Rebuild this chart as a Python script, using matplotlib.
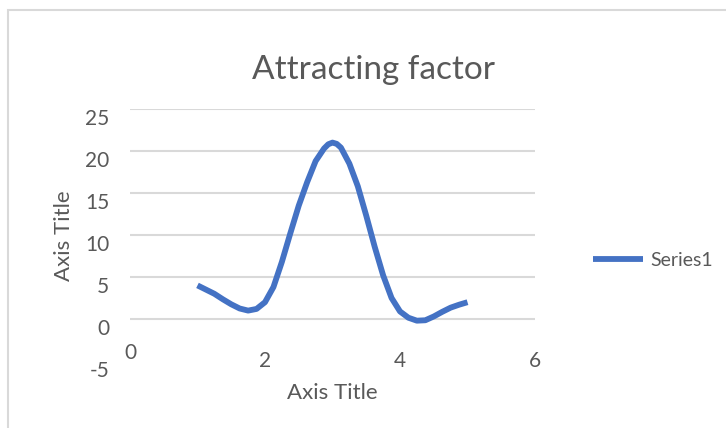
import matplotlib
matplotlib.use("Agg")
import matplotlib.pyplot as plt
import matplotlib.transforms as mtransforms
from matplotlib.patches import Rectangle

# values
x_vals = [1.0, 1.125, 1.25, 1.375, 1.5, 1.625, 1.75, 1.875, 2.0, 2.125, 2.25,
          2.375, 2.5, 2.625, 2.75, 2.875, 2.9375, 3.0, 3.0625, 3.125, 3.25,
          3.375, 3.5, 3.625, 3.75, 3.875, 4.0, 4.125, 4.25, 4.375, 4.5, 4.625,
          4.75, 4.875, 5.0]
y_vals = [4.0, 3.5, 3.0, 2.35, 1.75, 1.25, 1.0, 1.2, 2.0, 3.8, 6.8,
          10.2, 13.5, 16.3, 18.8, 20.3, 20.8, 21.0, 20.85, 20.4, 18.5,
          15.8, 12.3, 8.6, 5.2, 2.5, 0.9, 0.15, -0.2, -0.15, 0.3, 0.85,
          1.35, 1.7, 2.0]
x_ticks = [0, 2, 4, 6]
y_ticks = [-5, 0, 5, 10, 15, 20, 25]
grid_levels = [0, 5, 10, 15, 20, 25]

title = "Attracting factor"
series_name = "Series1"

plt.rcParams['font.family'] = ['Lato', 'DejaVu Sans']
plt.rcParams['axes.unicode_minus'] = False
txt = '#595959'
grid_col = '#d9d9d9'
line_col = '#4472c4'

W, H = 726, 428
fig = plt.figure(figsize=(W / 100, H / 100), dpi=100)

# chart area border (runs off the right/bottom edge)
fig.patches.append(Rectangle((8 / W, -0.05), 1.1, 1.05 - 10 / H,
                             transform=fig.transFigure, fill=False,
                             edgecolor=grid_col, linewidth=1.5))

ax = fig.add_axes([130 / W, (H - 361) / H, 405 / W, 252 / H])
for s in ax.spines.values():
    s.set_visible(False)

for g in grid_levels:
    ax.axhline(g, color=grid_col, linewidth=1.5, zorder=1)

ax.plot(x_vals, y_vals, color=line_col, linewidth=4.2,
        solid_capstyle='butt', solid_joinstyle='round', zorder=3,
        label=series_name)

ax.set_xlim(0, 6)
ax.set_ylim(-5, 25)
ax.set_xticks(x_ticks)
ax.set_yticks(y_ticks)
ax.tick_params(axis='both', length=0, labelsize=15, colors=txt)
ax.tick_params(axis='y', pad=15)
ax.tick_params(axis='x', pad=-7)

# labels in the reference sit a bit below their gridlines
shift = mtransforms.ScaledTranslation(0, -6 / 72, fig.dpi_scale_trans)
for lab in ax.get_yticklabels():
    lab.set_transform(lab.get_transform() + shift)
up = mtransforms.ScaledTranslation(0, 6 / 72, fig.dpi_scale_trans)
xlabs = ax.get_xticklabels()
xlabs[0].set_transform(xlabs[0].get_transform() + up)

fig.text(374 / W, 1 - 70 / H, title, ha='center', va='center',
         fontsize=24, color=txt)
fig.text(332 / W, 1 - 393 / H, "Axis Title", ha='center', va='center',
         fontsize=16, color=txt)
fig.text(64 / W, 1 - 236 / H, "Axis Title", ha='center', va='center',
         rotation=90, fontsize=16, color=txt)

ax.legend(loc='center left', bbox_to_anchor=(575 / W, 1 - 260 / H),
          bbox_transform=fig.transFigure, frameon=False, fontsize=14,
          handlelength=2.6, handletextpad=0.4, labelcolor=txt)

fig.savefig("out.png", dpi=100)
